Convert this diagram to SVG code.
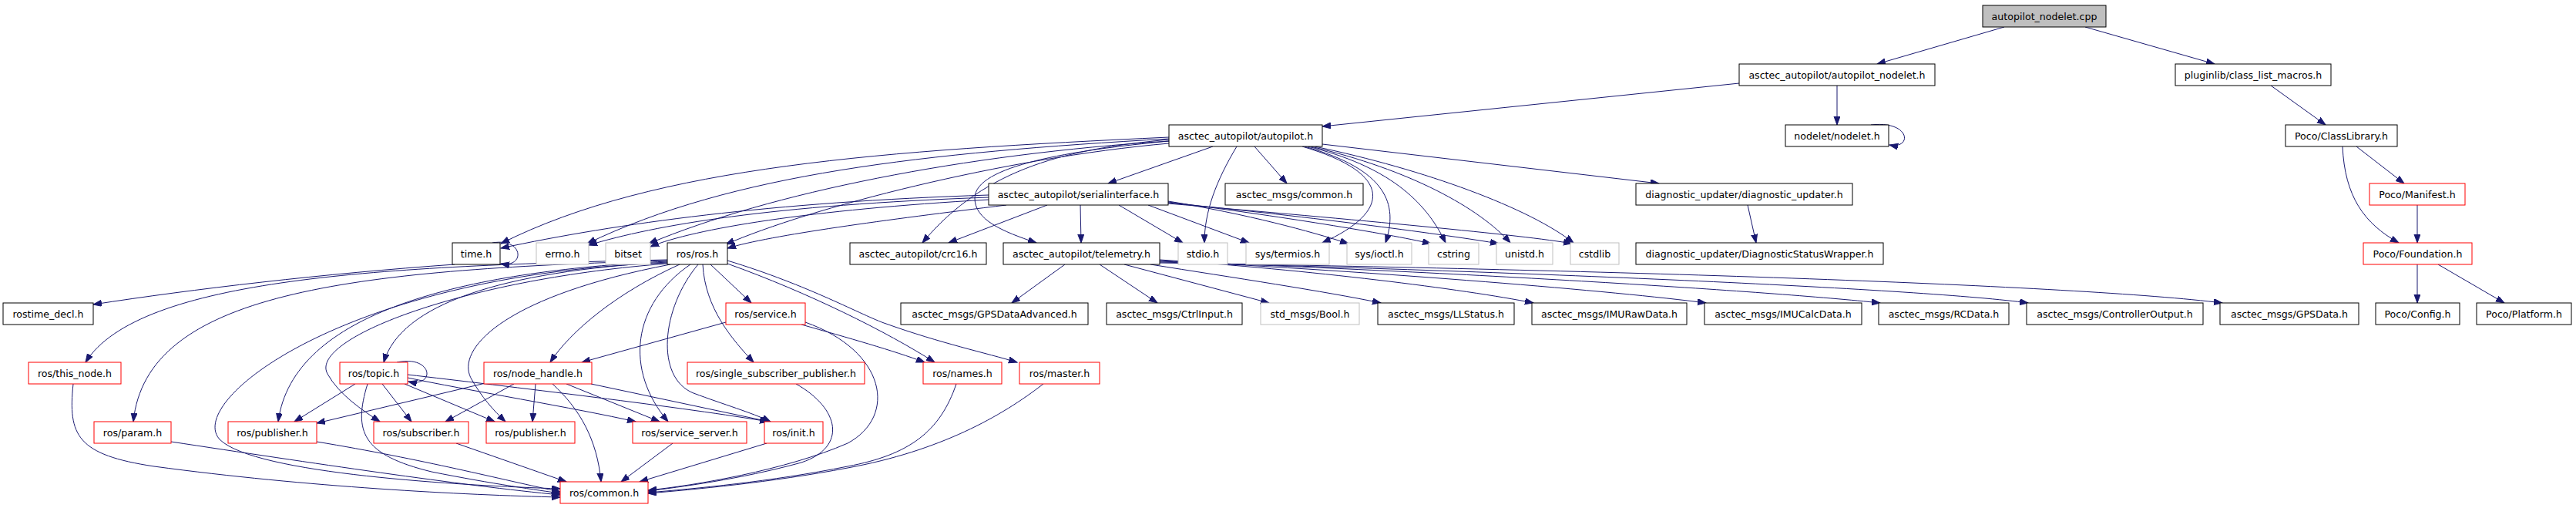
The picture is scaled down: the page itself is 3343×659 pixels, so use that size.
<svg xmlns="http://www.w3.org/2000/svg" width="3343" height="659" viewBox="0 0 3343 659">
<style>
rect{fill:#fff;stroke:#000;stroke-width:1}
.red rect{stroke:#ff0000}
.gray rect{stroke:#bfbfbf}
.root rect{fill:#bfbfbf}
text{font-family:"DejaVu Sans",sans-serif;font-size:12.6px;text-anchor:middle;fill:#000}
#edges path{fill:none;stroke:#191970;stroke-width:1;marker-end:url(#a)}
</style>
<defs>
<marker id="a" markerUnits="userSpaceOnUse" markerWidth="12" markerHeight="9" refX="11" refY="4" orient="auto"><path d="M0,0 L11,4 L0,8 z" fill="#191970" stroke="#191970"/></marker>
</defs>
<rect x="0" y="0" width="3343" height="659" style="stroke:none;fill:#fff"/>
<g id="edges">
<path d="M2601,35 L2436,83"/>
<path d="M2706,35 L2874,83"/>
<path d="M2257,108 L1716,164"/>
<path d="M2384,111 L2384,162"/>
<path d="M2428,162 C2480,156 2482,194 2452,188"/>
<path d="M2947,111 L3018,162"/>
<path d="M3058,190 L3120,238"/>
<path d="M3040,190 C3043,255 3068,290 3113,315"/>
<path d="M3137,266 L3137,315"/>
<path d="M3137,343 L3137,393"/>
<path d="M3164,343 L3250,393"/>
<path d="M2268,266 L2279,315"/>
<path d="M1716,187 L2153,238"/>
<path d="M1574,190 L1438,238"/>
<path d="M1628,190 L1670,238"/>
<path d="M1605,190 C1578,235 1563,275 1563,315"/>
<path d="M1517,181 C1390,193 1280,215 1197,315"/>
<path d="M1517,183 C1390,195 1265,215 1265,257 C1265,285 1300,300 1345,315"/>
<path d="M1690,190 C1810,225 1805,275 1716,315"/>
<path d="M1693,190 C1800,220 1815,265 1798,315"/>
<path d="M1697,190 C1800,215 1850,260 1876,315"/>
<path d="M1701,190 C1830,220 1920,270 1960,315"/>
<path d="M1706,190 C1850,220 1985,270 2042,315"/>
<path d="M1517,178 C1150,195 850,215 650,316"/>
<path d="M1517,180 C1200,198 950,225 762,316"/>
<path d="M1517,183 C1250,200 1000,250 842,316"/>
<path d="M1517,186 C1300,205 1050,270 942,317"/>
<path d="M1283,253 C1000,262 800,290 650,322"/>
<path d="M1283,256 C1000,266 850,292 764,318"/>
<path d="M1283,259 C1050,272 900,297 844,320"/>
<path d="M1306,266 C1150,285 1000,305 944,322"/>
<path d="M1359,266 L1231,315"/>
<path d="M1402,266 L1403,315"/>
<path d="M1452,266 L1535,315"/>
<path d="M1490,266 L1621,315"/>
<path d="M1516,261 C1620,278 1700,300 1750,316"/>
<path d="M1516,262 C1660,280 1800,303 1857,316"/>
<path d="M1516,263 C1710,282 1880,305 1945,316"/>
<path d="M1516,264 C1760,285 1980,305 2040,316"/>
<path d="M639,315 C680,308 682,348 650,342"/>
<path d="M590,343 C420,355 250,375 121,395"/>
<path d="M1382,343 L1313,393"/>
<path d="M1427,343 L1502,393"/>
<path d="M1459,343 L1647,393"/>
<path d="M1493,343 C1600,360 1720,378 1792,393"/>
<path d="M1505,337 C1700,350 1900,375 1990,393"/>
<path d="M1505,338 C1800,353 2100,378 2214,393"/>
<path d="M1505,339 C1900,353 2300,378 2440,393"/>
<path d="M1505,340 C2000,353 2500,375 2632,393"/>
<path d="M1505,341 C2100,350 2700,370 2884,393"/>
<path d="M866,337 C500,345 180,360 111,470"/>
<path d="M866,338 C450,350 190,380 173,547"/>
<path d="M866,339 C600,352 380,405 361,547"/>
<path d="M866,340 C650,352 520,395 498,470"/>
<path d="M866,342 C600,362 400,440 425,485 C440,512 470,532 493,547"/>
<path d="M866,341 C450,355 240,520 285,570 C330,615 600,630 727,634"/>
<path d="M870,343 C650,385 590,455 612,492 C625,515 640,532 656,547"/>
<path d="M882,343 C800,380 740,430 714,470"/>
<path d="M896,343 C820,395 810,480 867,547"/>
<path d="M906,343 C858,400 850,490 900,510 C940,525 975,535 1000,547"/>
<path d="M922,343 L975,393"/>
<path d="M912,343 C915,400 950,440 978,470"/>
<path d="M944,338 C1050,370 1120,410 1150,420 C1220,445 1280,458 1320,470"/>
<path d="M944,342 C1050,380 1150,430 1213,470"/>
<path d="M1040,421 C1100,438 1160,455 1200,470"/>
<path d="M942,418 L755,470"/>
<path d="M1045,418 C1150,455 1165,540 1100,575 C1020,610 900,630 841,636"/>
<path d="M1033,498 C1090,530 1100,580 1040,600 C960,622 880,632 841,637"/>
<path d="M1241,498 C1220,560 1180,590 1100,605 C1000,625 900,634 841,639"/>
<path d="M1354,498 C1300,540 1220,585 1100,607 C1000,626 900,635 841,640"/>
<path d="M995,575 L830,625"/>
<path d="M873,575 L806,625"/>
<path d="M717,498 C752,530 775,570 780,625"/>
<path d="M695,498 L691,547"/>
<path d="M667,498 L578,547"/>
<path d="M735,498 L856,547"/>
<path d="M767,498 L998,547"/>
<path d="M630,497 L411,549"/>
<path d="M515,470 C562,460 566,503 530,495"/>
<path d="M461,498 L382,547"/>
<path d="M496,498 L534,547"/>
<path d="M477,498 C458,560 470,590 560,612 C640,628 700,636 727,640"/>
<path d="M525,498 L642,547"/>
<path d="M529,490 C600,505 750,530 825,547"/>
<path d="M529,486 C650,500 900,530 997,547"/>
<path d="M95,498 C88,565 100,590 200,605 C400,632 600,642 727,645"/>
<path d="M222,573 C400,600 600,630 727,642"/>
<path d="M411,573 C550,596 650,622 727,638"/>
<path d="M592,575 L735,625"/>
</g>
<g id="n_root" class="root"><rect x="2573" y="7" width="160" height="28"/><text x="2653" y="26">autopilot_nodelet.cpp</text></g>
<g id="n_apn"><rect x="2257" y="83" width="254" height="28"/><text x="2384" y="102">asctec_autopilot/autopilot_nodelet.h</text></g>
<g id="n_plug"><rect x="2823" y="83" width="202" height="28"/><text x="2924" y="102">pluginlib/class_list_macros.h</text></g>
<g id="n_ap"><rect x="1517" y="162" width="199" height="28"/><text x="1616.5" y="181">asctec_autopilot/autopilot.h</text></g>
<g id="n_nodelet"><rect x="2317" y="162" width="134" height="28"/><text x="2384" y="181">nodelet/nodelet.h</text></g>
<g id="n_cl"><rect x="2966" y="162" width="145" height="28"/><text x="3038.5" y="181">Poco/ClassLibrary.h</text></g>
<g id="n_si"><rect x="1283" y="238" width="233" height="28"/><text x="1399.5" y="257">asctec_autopilot/serialinterface.h</text></g>
<g id="n_amc"><rect x="1590" y="238" width="179" height="28"/><text x="1679.5" y="257">asctec_msgs/common.h</text></g>
<g id="n_du"><rect x="2123" y="238" width="281" height="28"/><text x="2263.5" y="257">diagnostic_updater/diagnostic_updater.h</text></g>
<g id="n_man" class="red"><rect x="3075" y="238" width="124" height="28"/><text x="3137" y="257">Poco/Manifest.h</text></g>
<g id="n_time"><rect x="587" y="315" width="62" height="28"/><text x="618" y="334">time.h</text></g>
<g id="n_errno" class="gray"><rect x="696" y="315" width="68" height="28"/><text x="730" y="334">errno.h</text></g>
<g id="n_bitset" class="gray"><rect x="786" y="315" width="58" height="28"/><text x="815" y="334">bitset</text></g>
<g id="n_ros"><rect x="866" y="315" width="78" height="28"/><text x="905" y="334">ros/ros.h</text></g>
<g id="n_crc"><rect x="1103" y="315" width="177" height="28"/><text x="1191.5" y="334">asctec_autopilot/crc16.h</text></g>
<g id="n_tel"><rect x="1302" y="315" width="203" height="28"/><text x="1403.5" y="334">asctec_autopilot/telemetry.h</text></g>
<g id="n_stdio" class="gray"><rect x="1529" y="315" width="64" height="28"/><text x="1561" y="334">stdio.h</text></g>
<g id="n_termios" class="gray"><rect x="1617" y="315" width="108" height="28"/><text x="1671" y="334">sys/termios.h</text></g>
<g id="n_ioctl" class="gray"><rect x="1748" y="315" width="84" height="28"/><text x="1790" y="334">sys/ioctl.h</text></g>
<g id="n_cstring" class="gray"><rect x="1854" y="315" width="65" height="28"/><text x="1886.5" y="334">cstring</text></g>
<g id="n_unistd" class="gray"><rect x="1942" y="315" width="73" height="28"/><text x="1978.5" y="334">unistd.h</text></g>
<g id="n_cstdlib" class="gray"><rect x="2038" y="315" width="63" height="28"/><text x="2069.5" y="334">cstdlib</text></g>
<g id="n_dsw"><rect x="2123" y="315" width="321" height="28"/><text x="2283.5" y="334">diagnostic_updater/DiagnosticStatusWrapper.h</text></g>
<g id="n_found" class="red"><rect x="3067" y="315" width="141" height="28"/><text x="3137.5" y="334">Poco/Foundation.h</text></g>
<g id="n_rtd"><rect x="4" y="393" width="117" height="28"/><text x="62.5" y="412">rostime_decl.h</text></g>
<g id="n_srv" class="red"><rect x="942" y="393" width="103" height="28"/><text x="993.5" y="412">ros/service.h</text></g>
<g id="n_gpsa"><rect x="1169" y="393" width="243" height="28"/><text x="1290.5" y="412">asctec_msgs/GPSDataAdvanced.h</text></g>
<g id="n_ctrl"><rect x="1436" y="393" width="176" height="28"/><text x="1524" y="412">asctec_msgs/CtrlInput.h</text></g>
<g id="n_bool" class="gray"><rect x="1636" y="393" width="128" height="28"/><text x="1700" y="412">std_msgs/Bool.h</text></g>
<g id="n_lls"><rect x="1788" y="393" width="177" height="28"/><text x="1876.5" y="412">asctec_msgs/LLStatus.h</text></g>
<g id="n_imur"><rect x="1988" y="393" width="201" height="28"/><text x="2088.5" y="412">asctec_msgs/IMURawData.h</text></g>
<g id="n_imuc"><rect x="2212" y="393" width="204" height="28"/><text x="2314" y="412">asctec_msgs/IMUCalcData.h</text></g>
<g id="n_rc"><rect x="2438" y="393" width="169" height="28"/><text x="2522.5" y="412">asctec_msgs/RCData.h</text></g>
<g id="n_co"><rect x="2630" y="393" width="229" height="28"/><text x="2744.5" y="412">asctec_msgs/ControllerOutput.h</text></g>
<g id="n_gps"><rect x="2881" y="393" width="180" height="28"/><text x="2971" y="412">asctec_msgs/GPSData.h</text></g>
<g id="n_cfg"><rect x="3083" y="393" width="109" height="28"/><text x="3137.5" y="412">Poco/Config.h</text></g>
<g id="n_plat"><rect x="3214" y="393" width="123" height="28"/><text x="3275.5" y="412">Poco/Platform.h</text></g>
<g id="n_tn" class="red"><rect x="37" y="470" width="120" height="28"/><text x="97" y="489">ros/this_node.h</text></g>
<g id="n_topic" class="red"><rect x="441" y="470" width="88" height="28"/><text x="485" y="489">ros/topic.h</text></g>
<g id="n_nh" class="red"><rect x="628" y="470" width="140" height="28"/><text x="698" y="489">ros/node_handle.h</text></g>
<g id="n_ssp" class="red"><rect x="892" y="470" width="230" height="28"/><text x="1007" y="489">ros/single_subscriber_publisher.h</text></g>
<g id="n_names" class="red"><rect x="1198" y="470" width="102" height="28"/><text x="1249" y="489">ros/names.h</text></g>
<g id="n_master" class="red"><rect x="1323" y="470" width="104" height="28"/><text x="1375" y="489">ros/master.h</text></g>
<g id="n_param" class="red"><rect x="122" y="547" width="100" height="28"/><text x="172" y="566">ros/param.h</text></g>
<g id="n_pub1" class="red"><rect x="296" y="547" width="115" height="28"/><text x="353.5" y="566">ros/publisher.h</text></g>
<g id="n_sub" class="red"><rect x="485" y="547" width="123" height="28"/><text x="546.5" y="566">ros/subscriber.h</text></g>
<g id="n_pub2" class="red"><rect x="631" y="547" width="115" height="28"/><text x="688.5" y="566">ros/publisher.h</text></g>
<g id="n_ss" class="red"><rect x="821" y="547" width="148" height="28"/><text x="895" y="566">ros/service_server.h</text></g>
<g id="n_init" class="red"><rect x="992" y="547" width="76" height="28"/><text x="1030" y="566">ros/init.h</text></g>
<g id="n_common" class="red"><rect x="727" y="625" width="114" height="28"/><text x="784" y="644">ros/common.h</text></g>
</svg>
